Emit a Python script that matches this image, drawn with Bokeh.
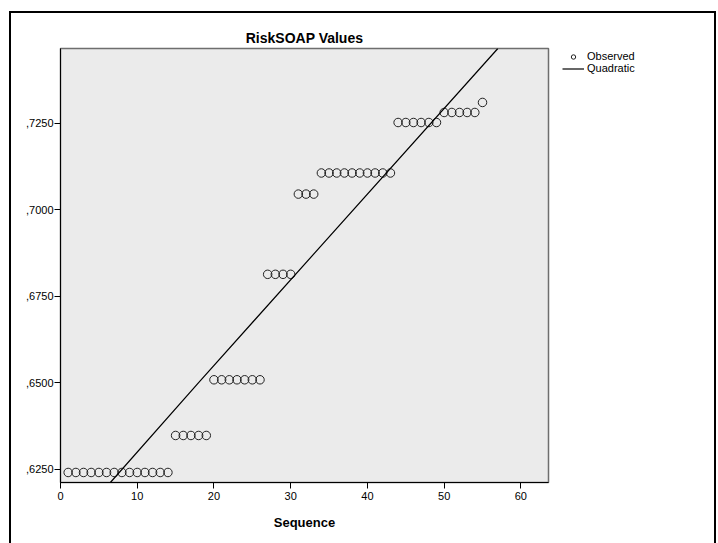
from bokeh.plotting import figure
from bokeh.embed import file_html
from bokeh.resources import INLINE
from bokeh.models import FixedTicker, Legend, LegendItem, Range1d, InlineStyleSheet

# ---- data ----
sequence = [1, 2, 3, 4, 5, 6, 7, 8, 9, 10, 11, 12, 13, 14, 15, 16, 17, 18, 19, 20,
            21, 22, 23, 24, 25, 26, 27, 28, 29, 30, 31, 32, 33, 34, 35, 36, 37, 38, 39, 40,
            41, 42, 43, 44, 45, 46, 47, 48, 49, 50, 51, 52, 53, 54, 55]
observed = [0.6240, 0.6240, 0.6240, 0.6240, 0.6240, 0.6240, 0.6240, 0.6240, 0.6240, 0.6240,
            0.6240, 0.6240, 0.6240, 0.6240,
            0.6347, 0.6347, 0.6347, 0.6347, 0.6347,
            0.6508, 0.6508, 0.6508, 0.6508, 0.6508, 0.6508, 0.6508,
            0.6813, 0.6813, 0.6813, 0.6813,
            0.7045, 0.7045, 0.7045,
            0.7106, 0.7106, 0.7106, 0.7106, 0.7106, 0.7106, 0.7106, 0.7106, 0.7106, 0.7106,
            0.7252, 0.7252, 0.7252, 0.7252, 0.7252, 0.7252,
            0.7281, 0.7281, 0.7281, 0.7281, 0.7281,
            0.7310]
fit_seq = [6.5, 18.0, 57.0]
fit_val = [0.6211, 0.6500, 0.7466]

x_ticks = [0, 10, 20, 30, 40, 50, 60]
y_ticks = [0.625, 0.650, 0.675, 0.700, 0.725]
y_tick_labels = [",6250", ",6500", ",6750", ",7000", ",7250"]

FONT = "Liberation Sans"

frame_css = InlineStyleSheet(css="""
:host::after {
  content: "";
  position: absolute;
  left: 9px; top: 11px;
  width: 707px; height: 600px;
  border: 2px solid black;
  pointer-events: none;
  box-sizing: border-box;
}
""")

p = figure(frame_width=488, frame_height=434, output_backend="svg", toolbar_location=None,
           x_range=Range1d(0, 63.6), y_range=Range1d(0.6211, 0.7466),
           min_border_left=60, min_border_right=170, min_border_top=48, min_border_bottom=61,
           title="RiskSOAP Values", stylesheets=[frame_css])
p.background_fill_color = "#ebebeb"
p.border_fill_color = "white"
p.outline_line_color = "#6e6e6e"
p.outline_line_width = 1.5
p.grid.visible = False

p.title.align = "center"
p.title.text_font = FONT
p.title.text_font_size = "14px"
p.title.text_font_style = "bold"
p.title.text_color = "black"
p.title.standoff = 6

for ax in (p.xaxis[0], p.yaxis[0]):
    ax.axis_line_color = "black"
    ax.major_tick_line_color = "black"
    ax.major_tick_out = 6
    ax.major_tick_in = 0
    ax.minor_tick_line_color = None
    ax.major_label_text_font = FONT
    ax.major_label_text_font_size = "11px"
    ax.major_label_text_color = "black"

p.xaxis.ticker = FixedTicker(ticks=x_ticks)
p.xaxis.major_label_standoff = 3
p.xaxis.axis_label = "Sequence"
p.xaxis.axis_label_text_font = FONT
p.xaxis.axis_label_text_font_size = "13px"
p.xaxis.axis_label_text_font_style = "bold"
p.xaxis.axis_label_text_color = "black"
p.xaxis.axis_label_standoff = 12

p.yaxis.ticker = FixedTicker(ticks=y_ticks)
p.yaxis.major_label_overrides = {t: l for t, l in zip(y_ticks, y_tick_labels)}
p.yaxis.major_label_standoff = 1

pts = p.scatter(sequence, observed, marker="circle", size=8.5, fill_color=None,
                line_color="#222222", line_width=1)
ln = p.line(fit_seq, fit_val, line_color="black", line_width=1.2)

legend = Legend(items=[LegendItem(label="Observed", renderers=[pts]),
                       LegendItem(label="Quadratic", renderers=[ln])],
                location=(14, 408), padding=0, margin=0, spacing=0,
                glyph_width=22, glyph_height=11, label_height=11, label_standoff=3,
                label_text_font=FONT, label_text_font_size="11px",
                label_text_color="black",
                border_line_color=None, background_fill_alpha=0)
p.add_layout(legend, "right")

open("out.html", "w").write(file_html(p, INLINE))
